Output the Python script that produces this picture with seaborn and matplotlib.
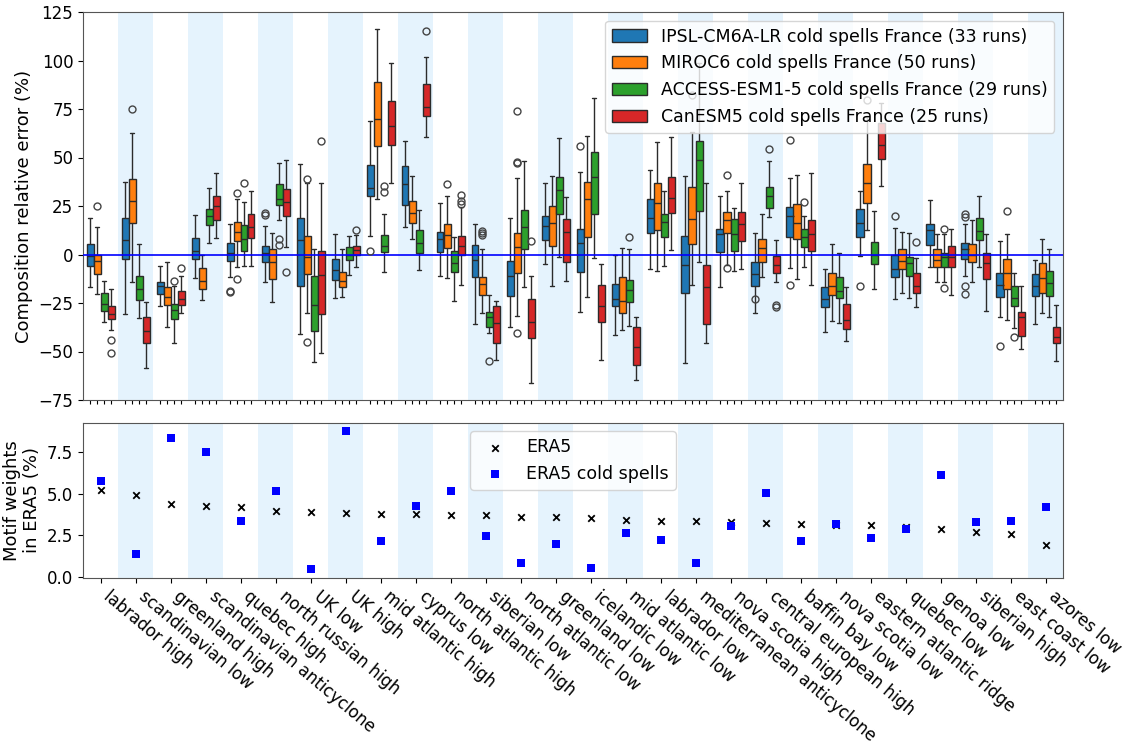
import numpy as np
import pandas as pd
import matplotlib
matplotlib.use("Agg")
import matplotlib.pyplot as plt
import seaborn as sns

categories = ["labrador high", "scandinavian low", "greenland high", "scandinavian anticyclone",
              "quebec high", "north russian high", "UK low", "UK high", "mid atlantic high",
              "cyprus low", "north atlantic high", "siberian low", "north atlantic low",
              "greenland low", "icelandic low", "mid atlantic low", "labrador low",
              "mediterranean anticyclone", "nova scotia high", "central european high",
              "baffin bay low", "nova scotia low", "eastern atlantic ridge", "quebec low",
              "genoa low", "siberian high", "east coast low", "azores low"]

models = ["IPSL-CM6A-LR cold spells France (33 runs)",
          "MIROC6 cold spells France (50 runs)",
          "ACCESS-ESM1-5 cold spells France (29 runs)",
          "CanESM5 cold spells France (25 runs)"]
model_colors = ["#1f77b4", "#ff7f0e", "#2ca02c", "#d62728"]

# box statistics per model: whisker low, q1, median, q3, whisker high (one entry per category)
ipsl_lo  = [-16.6,-30.7,-26.4,-12.3,-11.7,-14.3,-40.8,-22.6,9.7,14.3,-11.2,-35.8,-37.5,-5.1,-29.5,-41.5,-7.6,-55.8,-16.9,-30.3,-7.1,-40.1,-0.8,-22.9,-6.3,-11.1,-32.4,-36.0]
ipsl_q1  = [-5.8,-2.3,-20.2,-2.5,-3.4,-3.7,-16.4,-13.1,30.2,25.7,1.1,-11.7,-21.6,7.5,-9.2,-26.7,10.9,-20.0,1.1,-16.1,9.2,-27.2,9.2,-11.6,4.9,-2.5,-22.1,-21.4]
ipsl_med = [-0.9,7.5,-16.1,1.8,0.6,0.6,7.5,-8.0,34.1,36.3,8.0,-2.8,-11.2,14.5,6.1,-22.8,18.6,-5.6,10.4,-10.0,19.8,-22.8,16.4,-7.6,12.6,3.0,-15.7,-16.1]
ipsl_q3  = [5.2,18.8,-14.0,8.7,5.8,4.6,19.0,-2.5,46.1,45.8,11.4,5.1,-3.4,19.8,13.0,-15.4,28.4,9.5,13.1,-3.7,24.3,-16.9,23.3,-0.3,15.5,5.8,-9.7,-10.0]
ipsl_hi  = [19.0,37.5,-5.9,20.4,15.5,14.5,46.6,10.4,68.8,58.7,26.7,15.7,18.6,36.6,42.7,0.0,43.6,40.5,30.2,11.3,39.6,-7.6,32.9,13.5,27.9,15.7,7.1,-2.7]

miroc_lo  = [-20.4,-14.3,-37.5,-23.4,-6.6,-24.7,-30.0,-21.7,28.4,7.8,-12.3,-30.3,-31.7,-16.2,-21.9,-38.9,-8.7,-15.9,-5.4,-11.7,-12.8,-34.3,12.6,-20.0,-14.0,-14.0,-33.8,-30.3]
miroc_q1  = [-10.2,16.1,-26.0,-17.6,7.0,-12.8,-10.0,-16.9,56.1,16.4,3.5,-21.0,-9.5,4.2,9.2,-30.0,12.6,5.2,10.9,-3.7,7.8,-20.9,26.7,-7.6,-6.3,-4.0,-17.8,-19.7]
miroc_med = [-3.4,27.6,-21.7,-13.7,11.4,-4.0,-1.5,-13.5,69.7,21.6,10.1,-15.4,3.7,16.4,28.4,-23.8,26.7,18.1,17.8,3.2,16.1,-16.2,36.9,-3.2,-2.8,-0.3,-9.4,-12.3]
miroc_q3  = [-0.1,38.7,-16.6,-7.1,16.9,2.7,9.5,-8.8,88.9,27.4,15.7,-11.4,10.9,25.2,37.2,-11.8,36.9,35.0,22.1,8.2,26.0,-9.7,46.6,3.0,2.7,5.2,-2.5,-4.6]
miroc_hi  = [14.3,62.8,-3.7,-0.3,28.4,10.9,37.0,2.7,116.4,40.5,30.3,2.7,39.4,40.5,60.9,3.5,58.2,63.1,32.9,20.7,41.0,5.2,70.7,11.4,10.4,17.6,10.4,8.2]

access_lo  = [-35.0,-32.9,-45.4,6.1,-5.7,17.8,-55.6,-10.4,-9.2,-8.0,-23.8,-40.6,-16.9,-1.3,-1.8,-36.7,-6.1,-3.7,-8.5,19.3,-6.3,-35.1,-18.0,-22.3,-14.2,-6.3,-38.1,-32.0]
access_q1  = [-29.1,-23.3,-33.4,15.0,2.0,25.3,-39.4,-2.8,1.1,0.6,-9.0,-37.2,3.0,20.7,20.9,-24.3,8.8,22.6,1.6,24.0,4.0,-22.3,-5.1,-11.1,-6.3,7.5,-26.4,-21.4]
access_med = [-25.5,-17.6,-28.6,19.8,8.0,28.8,-26.0,-0.1,4.6,5.8,-4.4,-32.2,14.3,33.1,39.9,-18.5,16.8,48.5,10.4,30.3,9.0,-18.8,-0.3,-4.2,-1.5,12.1,-22.6,-14.8]
access_q3  = [-20.0,-10.9,-25.7,23.5,15.0,36.3,-10.9,3.7,9.9,12.6,1.6,-29.8,22.9,39.9,52.7,-13.1,20.7,58.7,18.1,35.0,13.1,-11.4,6.3,-1.1,0.9,19.0,-16.2,-8.3]
access_hi  = [-13.7,5.2,-16.2,34.4,27.1,47.0,2.7,9.5,20.7,22.9,9.2,-20.7,48.0,60.0,80.5,2.7,32.9,98.5,23.8,48.0,19.8,0.9,22.3,10.9,10.4,30.2,-9.4,3.0]

canesm_lo  = [-38.9,-58.7,-30.0,8.7,-5.9,4.0,-50.9,-6.6,36.7,60.4,-15.7,-54.4,-66.1,-13.5,-54.4,-64.7,2.1,-45.8,-7.3,-14.3,-15.7,-44.6,35.5,-27.1,-20.9,-29.1,-48.7,-54.9]
canesm_q1  = [-33.2,-45.8,-26.0,17.6,8.3,19.8,-30.8,-0.4,56.4,71.2,-0.4,-45.8,-42.9,-4.0,-35.0,-57.1,21.2,-36.0,7.1,-9.5,1.8,-38.6,49.0,-20.0,-6.3,-12.6,-42.0,-45.5]
canesm_med = [-30.5,-39.4,-23.1,25.2,14.0,27.1,-10.5,2.1,66.2,76.0,4.4,-35.5,-35.0,11.4,-26.4,-47.5,29.3,-16.6,15.6,-5.6,10.4,-33.8,56.4,-16.2,-1.1,-4.2,-32.0,-42.7]
canesm_q3  = [-26.7,-32.4,-18.8,30.2,20.7,33.6,2.0,4.6,79.1,88.1,9.5,-26.4,-22.9,18.5,-15.9,-37.2,39.9,-5.6,21.8,-0.6,17.6,-25.7,68.0,-9.7,4.6,0.6,-29.5,-37.2]
canesm_hi  = [-17.8,-24.7,-11.3,41.8,32.9,48.7,36.7,9.9,98.9,102.0,24.3,-24.0,-11.2,29.6,-5.1,-32.4,60.6,36.9,36.6,7.5,41.8,-16.6,78.0,-2.0,13.0,10.4,-16.1,-26.0]

# outliers: (category index, model index, value)
outliers = [(0,1,25.2),(0,3,-44.1),(0,3,-51.0),(1,1,74.8),(2,2,-13.5),(2,3,-6.8),
            (4,0,-18.6),(4,0,-19.1),(4,1,31.9),(4,1,-12.6),(4,2,37.0),
            (5,0,21.2),(5,0,20.4),(5,2,8.0),(5,2,4.7),(5,3,-9.0),
            (6,1,39.1),(6,1,-45.1),(6,3,58.3),(7,3,12.8),(8,0,1.8),(8,2,35.3),(8,2,32.0),
            (9,3,115.2),(10,1,36.5),(10,3,30.7),(10,3,27.6),(10,3,26.0),
            (11,1,12.3),(11,1,10.9),(11,1,9.9),(11,2,-54.9),
            (12,1,73.8),(12,1,47.7),(12,1,47.0),(12,1,-40.6),(12,3,7.1),
            (14,0,56.1),(15,2,9.2),(17,1,82.2),(18,1,41.0),(18,1,-7.1),
            (19,0,-23.1),(19,2,54.2),(19,3,-26.0),(19,3,-27.0),
            (20,0,58.8),(20,0,-15.7),(20,2,27.1),(22,0,-16.1),(22,1,79.6),
            (23,0,20.0),(23,3,6.6),(24,2,13.1),(24,2,-17.4),
            (25,0,20.9),(25,0,19.5),(25,0,-16.2),(25,0,-20.5),
            (26,0,-47.2),(26,1,22.6),(26,2,-42.4)]

era5_weights = [5.22,4.90,4.38,4.28,4.18,3.98,3.92,3.86,3.80,3.76,3.72,3.70,3.62,3.62,
                3.52,3.40,3.36,3.36,3.32,3.24,3.20,3.14,3.10,3.02,2.86,2.68,2.58,1.90]
era5_cold_weights = [5.74,1.38,8.34,7.50,3.36,5.16,0.50,8.76,2.16,4.24,5.16,2.46,0.86,1.96,
                     0.56,2.62,2.22,0.86,3.08,5.06,2.16,3.16,2.36,2.90,6.10,3.30,3.36,4.18]

# ---------------------------------------------------------------
sns.set_style("ticks")
plt.rcParams["font.family"] = ["DejaVu Sans"]
plt.rcParams["text.color"] = "black"
plt.rcParams["axes.labelcolor"] = "black"
plt.rcParams["xtick.color"] = "black"
plt.rcParams["ytick.color"] = "black"

stats = [
    (ipsl_lo, ipsl_q1, ipsl_med, ipsl_q3, ipsl_hi),
    (miroc_lo, miroc_q1, miroc_med, miroc_q3, miroc_hi),
    (access_lo, access_q1, access_med, access_q3, access_hi),
    (canesm_lo, canesm_q1, canesm_med, canesm_q3, canesm_hi),
]
rows = []
for m, st in enumerate(stats):
    for i, cat in enumerate(categories):
        for arr in st:
            rows.append({"motif": cat, "model": models[m], "value": arr[i]})
df = pd.DataFrame(rows)

fig = plt.figure(figsize=(11.34, 7.46), dpi=100)
ax = fig.add_axes([83/1134, 1-400/746, 980/1134, 388/746])
axb = fig.add_axes([83/1134, 1-577.7/746, 980/1134, 155/746])

band_color = "#e5f3fd"
for a in (ax, axb):
    for i in range(1, len(categories), 2):
        a.axvspan(i-0.5, i+0.5, color=band_color, lw=0, zorder=0)

sns.boxplot(data=df, x="motif", y="value", hue="model", order=categories, hue_order=models,
            palette=model_colors, saturation=1, width=0.8, gap=0, whis=(0, 100),
            showfliers=False, linewidth=1, linecolor="#2b2b2b", ax=ax)

offsets = [-0.3, -0.1, 0.1, 0.3]
fx = [c + offsets[m] for c, m, v in outliers]
fy = [v for c, m, v in outliers]
ax.plot(fx, fy, "o", mfc="none", mec="#444444", ms=5, mew=1, zorder=4)

ax.axhline(0, color="blue", lw=1.2, zorder=3)
ax.set_xlim(-0.5, len(categories)-0.5)
ax.set_ylim(-75, 125)
ax.set_yticks(np.arange(-75, 126, 25))
ax.set_xticks([i + o for i in range(len(categories)) for o in offsets])
ax.set_xticklabels([])
ax.set_xlabel("")
ax.set_ylabel("Composition relative error (%)", fontsize=13)
ax.tick_params(axis="y", labelsize=12)
ax.tick_params(axis="x", length=3)
sns.move_legend(ax, "upper right", title=None, fontsize=12.5, frameon=True)

pos = np.arange(len(categories))
sns.scatterplot(x=pos, y=era5_weights, marker="x", color="black", s=22, linewidth=1.3,
                label="ERA5", ax=axb, zorder=3)
sns.scatterplot(x=pos, y=era5_cold_weights, marker="s", color="blue", s=30, linewidth=0,
                label="ERA5 cold spells", ax=axb, zorder=3)
axb.set_xlim(-0.5, len(categories)-0.5)
axb.set_ylim(-0.03, 9.26)
axb.set_yticks([0, 2.5, 5, 7.5])
axb.set_yticklabels(["0.0", "2.5", "5.0", "7.5"])
axb.set_xticks(pos)
axb.set_xticklabels(categories, rotation=-40, ha="left", fontsize=12)
axb.tick_params(axis="y", labelsize=12)
axb.set_ylabel("Motif weights\nin ERA5 (%)", fontsize=13)
axb.legend(loc="upper center", fontsize=12.5)

for a in (ax, axb):
    for s in a.spines.values():
        s.set_color("#555555")

fig.align_ylabels([ax, axb])
fig.savefig("out.png", dpi=100)
